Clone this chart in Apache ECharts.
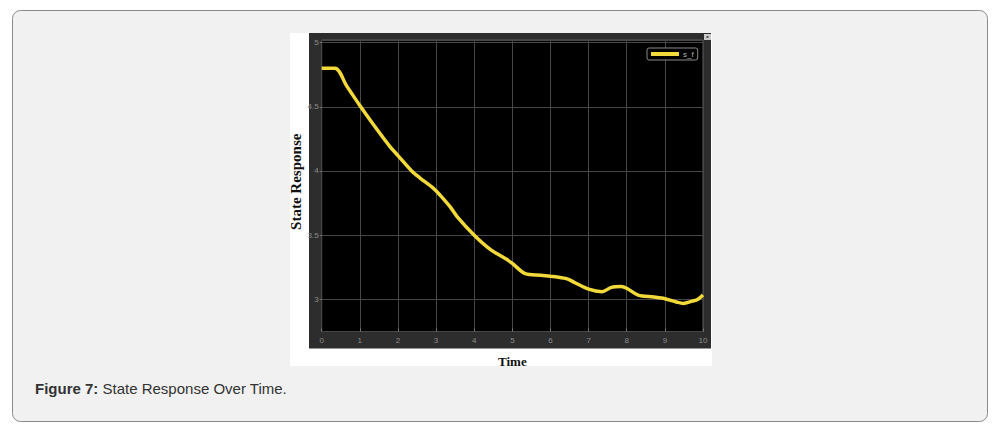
<!DOCTYPE html>
<html>
<head>
<meta charset="utf-8">
<script src="https://cdn.jsdelivr.net/npm/echarts@6/dist/echarts.min.js"></script>
<style>
html,body{margin:0;padding:0;background:#fff;}
#c{width:997px;height:435px;}
</style>
</head>
<body>
<div id="c"></div>
<script>
// ---- data ----
var times = [0, 0.35, 0.66, 1.0, 1.36, 1.79, 2.0, 2.36, 2.58, 2.93, 3.11, 3.37, 3.55, 4.0, 4.42, 4.86, 5.0, 5.34, 5.74, 6.0, 6.17, 6.44, 6.61, 7.0, 7.35, 7.6, 7.85, 8.01, 8.3, 8.71, 9.0, 9.3, 9.48, 9.72, 9.86, 10.0];
var values = [4.80, 4.80, 4.66, 4.51, 4.36, 4.19, 4.12, 4.00, 3.945, 3.865, 3.81, 3.72, 3.645, 3.50, 3.39, 3.31, 3.28, 3.20, 3.188, 3.18, 3.175, 3.16, 3.135, 3.08, 3.06, 3.094, 3.10, 3.085, 3.033, 3.018, 3.005, 2.98, 2.968, 2.987, 3.0, 3.035];
var seriesName = 's_f';
var xTitle = 'Time';
var yTitle = 'State Response';
var caption = ['Figure 7:', ' State Response Over Time.'];

var points = times.map(function (t, i) { return [t, values[i]]; });

var chart = echarts.init(document.getElementById('c'), null, {renderer: 'svg'});
chart.setOption({
  animation: false,
  graphic: [
    {type: 'rect', z: -10, shape: {x: 12.5, y: 10.5, width: 975, height: 411, r: 8},
     style: {fill: '#f1f1f1', stroke: '#8a8a8a', lineWidth: 1}},
    {type: 'rect', z: -9, shape: {x: 290, y: 33, width: 422, height: 333},
     style: {fill: '#ffffff'}},
    {type: 'rect', z: -8, shape: {x: 309, y: 33, width: 402, height: 315.5},
     style: {fill: '#2d2d2d'}},
    {type: 'rect', z: 10, shape: {x: 704, y: 34, width: 7, height: 6},
     style: {fill: '#c9c9c9'}},
    {type: 'rect', z: 11, shape: {x: 706.5, y: 36, width: 2, height: 2},
     style: {fill: '#555'}},
    {type: 'text', z: 10, x: 35, y: 388,
     style: {
       text: '{b|' + caption[0] + '}{n|' + caption[1] + '}',
       verticalAlign: 'middle',
       rich: {
         b: {fontFamily: 'Liberation Sans, Arial', fontWeight: 'bold', fontSize: 15, fill: '#333'},
         n: {fontFamily: 'Liberation Sans, Arial', fontSize: 15, fill: '#333'}
       }
     }}
  ],
  grid: {
    left: 321.7, top: 40, right: 294, bottom: 103.5,
    show: true, backgroundColor: '#000', borderColor: '#5c5c5c', borderWidth: 1
  },
  legend: {
    left: 647, top: 48,
    padding: [2, 4, 2, 4],
    itemWidth: 28, itemHeight: 4, itemGap: 4,
    icon: 'rect',
    backgroundColor: '#000',
    borderColor: '#8a8a8a', borderWidth: 1, borderRadius: 2,
    textStyle: {color: '#b5b5b5', fontSize: 8, fontFamily: 'Liberation Sans, Arial', padding: [0, 0, 0, -1]},
    data: [seriesName]
  },
  xAxis: {
    type: 'value', min: 0, max: 10, interval: 1,
    name: xTitle, nameLocation: 'middle', nameGap: 23,
    nameTextStyle: {fontFamily: 'Liberation Serif, Times New Roman', fontWeight: 'bold', fontSize: 13, color: '#111'},
    axisLine: {show: false},
    axisTick: {show: true, inside: true, length: 3, lineStyle: {color: '#777'}},
    axisLabel: {color: '#8c8c8c', fontSize: 8, margin: 5, fontFamily: 'Liberation Sans, Arial'},
    splitLine: {show: true, lineStyle: {color: '#474747', width: 1}}
  },
  yAxis: {
    type: 'value', min: 2.75, max: 5.02, splitNumber: 5,
    name: yTitle, nameLocation: 'middle', nameGap: 16, nameRotate: 90,
    nameTextStyle: {fontFamily: 'Liberation Serif, Times New Roman', fontWeight: 'bold', fontSize: 15, color: '#111', padding: [0, 0, 0, 8]},
    axisLine: {show: false},
    axisTick: {show: true, inside: false, length: 2, lineStyle: {color: '#777'}},
    axisLabel: {
      color: '#8c8c8c', fontSize: 8, margin: 3, fontFamily: 'Liberation Sans, Arial',
      showMinLabel: false, showMaxLabel: false,
      formatter: function (v) {
        var r = Math.round(v * 2) / 2;
        return Math.abs(r - v) < 1e-6 ? String(r) : '';
      }
    },
    splitLine: {show: true, lineStyle: {color: '#474747', width: 1}}
  },
  series: [{
    name: seriesName,
    type: 'line',
    data: points,
    showSymbol: false,
    smooth: 0.3,
    color: '#f2da3a',
    lineStyle: {width: 3.5, color: '#f2da3a'}
  }]
});
</script>
</body>
</html>
